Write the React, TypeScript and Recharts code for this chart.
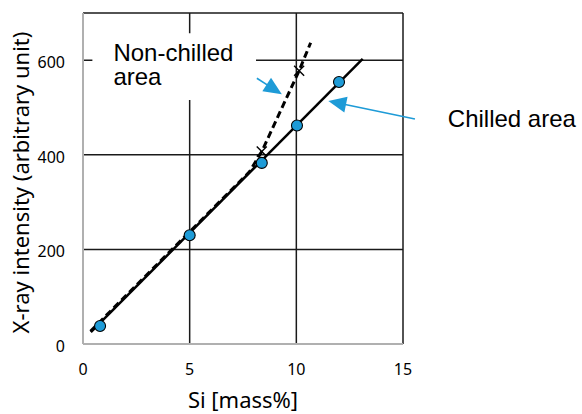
import React from 'react';
import {
  ComposedChart,
  Scatter,
  XAxis,
  YAxis,
  CartesianGrid,
  ReferenceArea,
  ReferenceLine,
  ReferenceDot,
} from 'recharts';

// chilled area measurements (blue circles)
const chilledSi = [0.8, 5, 8.38, 10.03, 12];
const chilledIntensity = [38, 230, 383, 462, 554];

// solid calibration line for chilled area
const fitSi = [0.37, 13.11];
const fitIntensity = [25, 603];

// dashed line for non-chilled area
const nonChilledSi = [0.35, 7.8, 8.38, 10.13, 10.67];
const nonChilledIntensity = [27, 364, 407, 578, 637];

// non-chilled measurements (crosses)
const crossSi = [8.38, 10.13];
const crossIntensity = [407, 578];

const xTicks = [0, 5, 10, 15];
const yTicks = [0, 200, 400, 600, 700];

const toPoints = (xs: number[], ys: number[]) => xs.map((x, i) => ({ x, y: ys[i] }));

const chilledData = toPoints(chilledSi, chilledIntensity);
const fitData = toPoints(fitSi, fitIntensity);
const nonChilledData = toPoints(nonChilledSi, nonChilledIntensity);
const crossData = toPoints(crossSi, crossIntensity);

const BLUE = '#1e9bd7';
const ANNOT_FONT = '"Liberation Sans", Arial, sans-serif';

const arrowShape = (props: any) => {
  const { x1, y1, x2, y2 } = props;
  const dx = x2 - x1;
  const dy = y2 - y1;
  const len = Math.hypot(dx, dy) || 1;
  const ux = dx / len;
  const uy = dy / len;
  const head = 18;
  const half = 8;
  const bx = x2 - ux * head;
  const by = y2 - uy * head;
  const pts = `${x2},${y2} ${bx - uy * half},${by + ux * half} ${bx + uy * half},${by - ux * half}`;
  return (
    <g>
      <line x1={x1} y1={y1} x2={bx + ux * 2} y2={by + uy * 2} stroke={BLUE} strokeWidth={1.6} />
      <polygon points={pts} fill={BLUE} />
    </g>
  );
};

const circleShape = (p: any) => (
  <circle cx={p.cx} cy={p.cy} r={5.5} fill={BLUE} stroke="#000" strokeWidth={1.1} />
);

const crossShape = (p: any) => (
  <g stroke="#000" strokeWidth={1.4}>
    <line x1={p.cx - 5} y1={p.cy - 5} x2={p.cx + 5} y2={p.cy + 5} />
    <line x1={p.cx - 5} y1={p.cy + 5} x2={p.cx + 5} y2={p.cy - 5} />
  </g>
);

const noShape = () => <g />;

export default function App() {
  return (
    <div style={{ position: 'absolute', left: 0, top: 0, background: '#fff', fontFamily: '"Noto Sans", sans-serif' }}>
      <ComposedChart width={582} height={414} margin={{ top: 13, right: 179, bottom: 0, left: 0 }}>
        <CartesianGrid stroke="#1a1a1a" strokeWidth={1.5} />
        <XAxis
          type="number"
          dataKey="x"
          domain={[0, 15]}
          ticks={xTicks}
          height={70}
          axisLine={{ stroke: '#b0b0b0', strokeWidth: 2 }}
          tickLine={false}
          tickSize={0}
          tickMargin={20}
          tick={{ fill: '#000', fontSize: 16 }}
          label={{
            content: (p: any) => {
              const vb = p.viewBox;
              return (
                <text x={vb.x + vb.width / 2} y={vb.y + vb.height - 6} textAnchor="middle" fontSize={22} fill="#000">
                  Si [mass%]
                </text>
              );
            },
          }}
        />
        <YAxis
          type="number"
          dataKey="y"
          domain={[0, 700]}
          ticks={yTicks}
          width={83}
          axisLine={{ stroke: '#b0b0b0', strokeWidth: 2 }}
          tickLine={false}
          tickSize={0}
          tickMargin={18}
          tickFormatter={(v: number) => (v === 700 ? '' : String(v))}
          tick={{ fill: '#000', fontSize: 16, dy: 2 }}
          label={{
            content: (p: any) => {
              const vb = p.viewBox;
              const cx = vb.x + 28.5;
              const cy = vb.y + vb.height / 2 + 4;
              return (
                <text x={0} y={0} transform={`translate(${cx}, ${cy}) rotate(-90)`} textAnchor="middle" fontSize={22} fill="#000">
                  X-ray intensity (arbitrary unit)
                </text>
              );
            },
          }}
        />

        <ReferenceArea
          x1={0.44}
          x2={8.11}
          y1={516}
          y2={657}
          fill="#fff"
          fillOpacity={1}
          stroke="none"
          label={{
            content: (p: any) => {
              const vb = p.viewBox;
              return (
                <text fontFamily={ANNOT_FONT} fontSize={24} fill="#000">
                  <tspan x={vb.x + 21} y={vb.y + 28}>Non-chilled</tspan>
                  <tspan x={vb.x + 21} y={vb.y + 52}>area</tspan>
                </text>
              );
            },
          }}
        />

        <Scatter
          data={fitData}
          line={{ stroke: '#000', strokeWidth: 2.5 }}
          lineType="joint"
          shape={noShape}
          isAnimationActive={false}
        />
        <Scatter
          data={nonChilledData}
          line={{ stroke: '#000', strokeWidth: 3, strokeDasharray: '7 4' }}
          lineType="joint"
          shape={noShape}
          isAnimationActive={false}
        />
        <Scatter data={crossData} shape={crossShape} isAnimationActive={false} />
        <Scatter data={chilledData} shape={circleShape} isAnimationActive={false} />

        <ReferenceLine
          segment={[{ x: 8.15, y: 562 }, { x: 9.32, y: 528 }]}
          ifOverflow="visible"
          shape={arrowShape}
        />
        <ReferenceLine
          segment={[{ x: 15.56, y: 476 }, { x: 11.5, y: 514 }]}
          ifOverflow="visible"
          shape={arrowShape}
        />
        <ReferenceDot
          x={17.1}
          y={459.5}
          r={0}
          ifOverflow="visible"
          shape={(p: any) => (
            <text x={p.cx} y={p.cy} fontFamily={ANNOT_FONT} fontSize={24} fill="#000">
              Chilled area
            </text>
          )}
        />
      </ComposedChart>
    </div>
  );
}
